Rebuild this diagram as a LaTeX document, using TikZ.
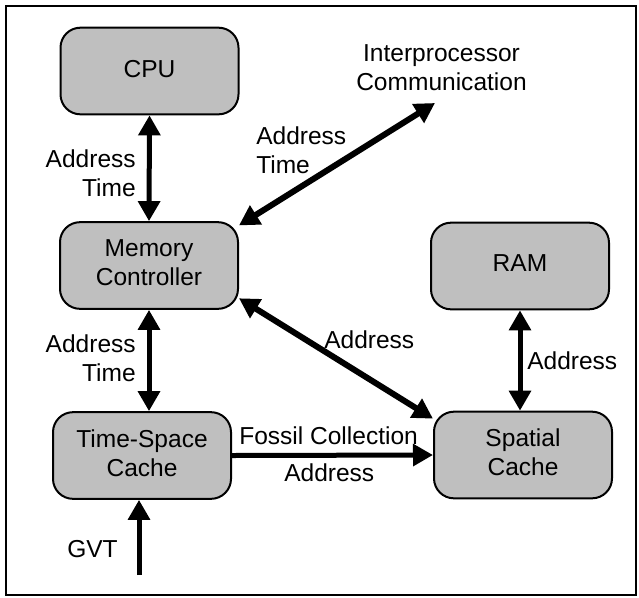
\documentclass[tikz,border=0pt]{standalone}
\usepackage{fontspec}
\setmainfont{Liberation Sans}
\usetikzlibrary{arrows.meta,calc}
\definecolor{boxgray}{RGB}{191,191,191}
\begin{document}
\begin{tikzpicture}[x=0.75pt,y=-0.75pt,
  every node/.style={font=\fontsize{18.4pt}{21.75pt}\selectfont},
  blk/.style={draw=black, line width=1.5pt, fill=boxgray, rounded corners=15pt,
    minimum width=133.5pt, minimum height=65pt, align=center, inner sep=0pt,
    execute at end node={\vphantom{y}}},
  lbl/.style={inner sep=0pt},
  >={Triangle[length=15pt,width=16pt]},
  link/.style={line width=3.75pt},
  dlink/.style={line width=4.5pt}]
\useasboundingbox (0,0) rectangle (639,597);
\draw[line width=1.5pt] (6,6) rectangle (636,595);

\node[blk] (cpu) at (149.5,71) {CPU};
\node[blk] (mc) at (149,265.5) {Memory\\Controller};
\node[blk] (ram) at (520,266) {RAM};
\node[blk] (ts) at (142,455.5) {Time-Space\\Cache};
\node[blk] (sp) at (523,455) {Spatial\\Cache};

\node[lbl, align=center] (ipc) at (441.5,67.2) {Interprocessor\\Communication};
\coordinate (ipctip) at (435,103);
\coordinate (gvtend) at (139,575);

\draw[link,<->] (cpu.south) -- (mc.north);
\draw[link,<->] (mc.south) -- (mc.south |- ts.north);
\draw[link,<->] (ram.south) -- (ram.south |- sp.north);
\draw[link,->] (ts.east) -- (sp.west);
\draw[link,->] (gvtend) -- (gvtend |- ts.south);
\draw[dlink,<->] (mc.24) -- (ipctip);
\draw[dlink,<->] (mc.-20) -- (sp.158);

\node[lbl, align=right, anchor=east] (l1) at (136,173.5) {Address\\Time};
\node[lbl, align=right, anchor=east] (l2) at (136,358.7) {Address\\Time};
\node[lbl, align=left, anchor=west] (l3) at (256,150.7) {Address\\Time};
\node[lbl, anchor=base west] (l4) at (324,348) {Address};
\node[lbl, anchor=base west] (l5) at (527,369) {Address};
\node[lbl, anchor=base west] (l6) at (239,444) {Fossil Collection};
\node[lbl, anchor=base west] (l7) at (284,481) {Address};
\node[lbl, anchor=base west] (l8) at (67,557) {GVT};
\end{tikzpicture}
\end{document}
